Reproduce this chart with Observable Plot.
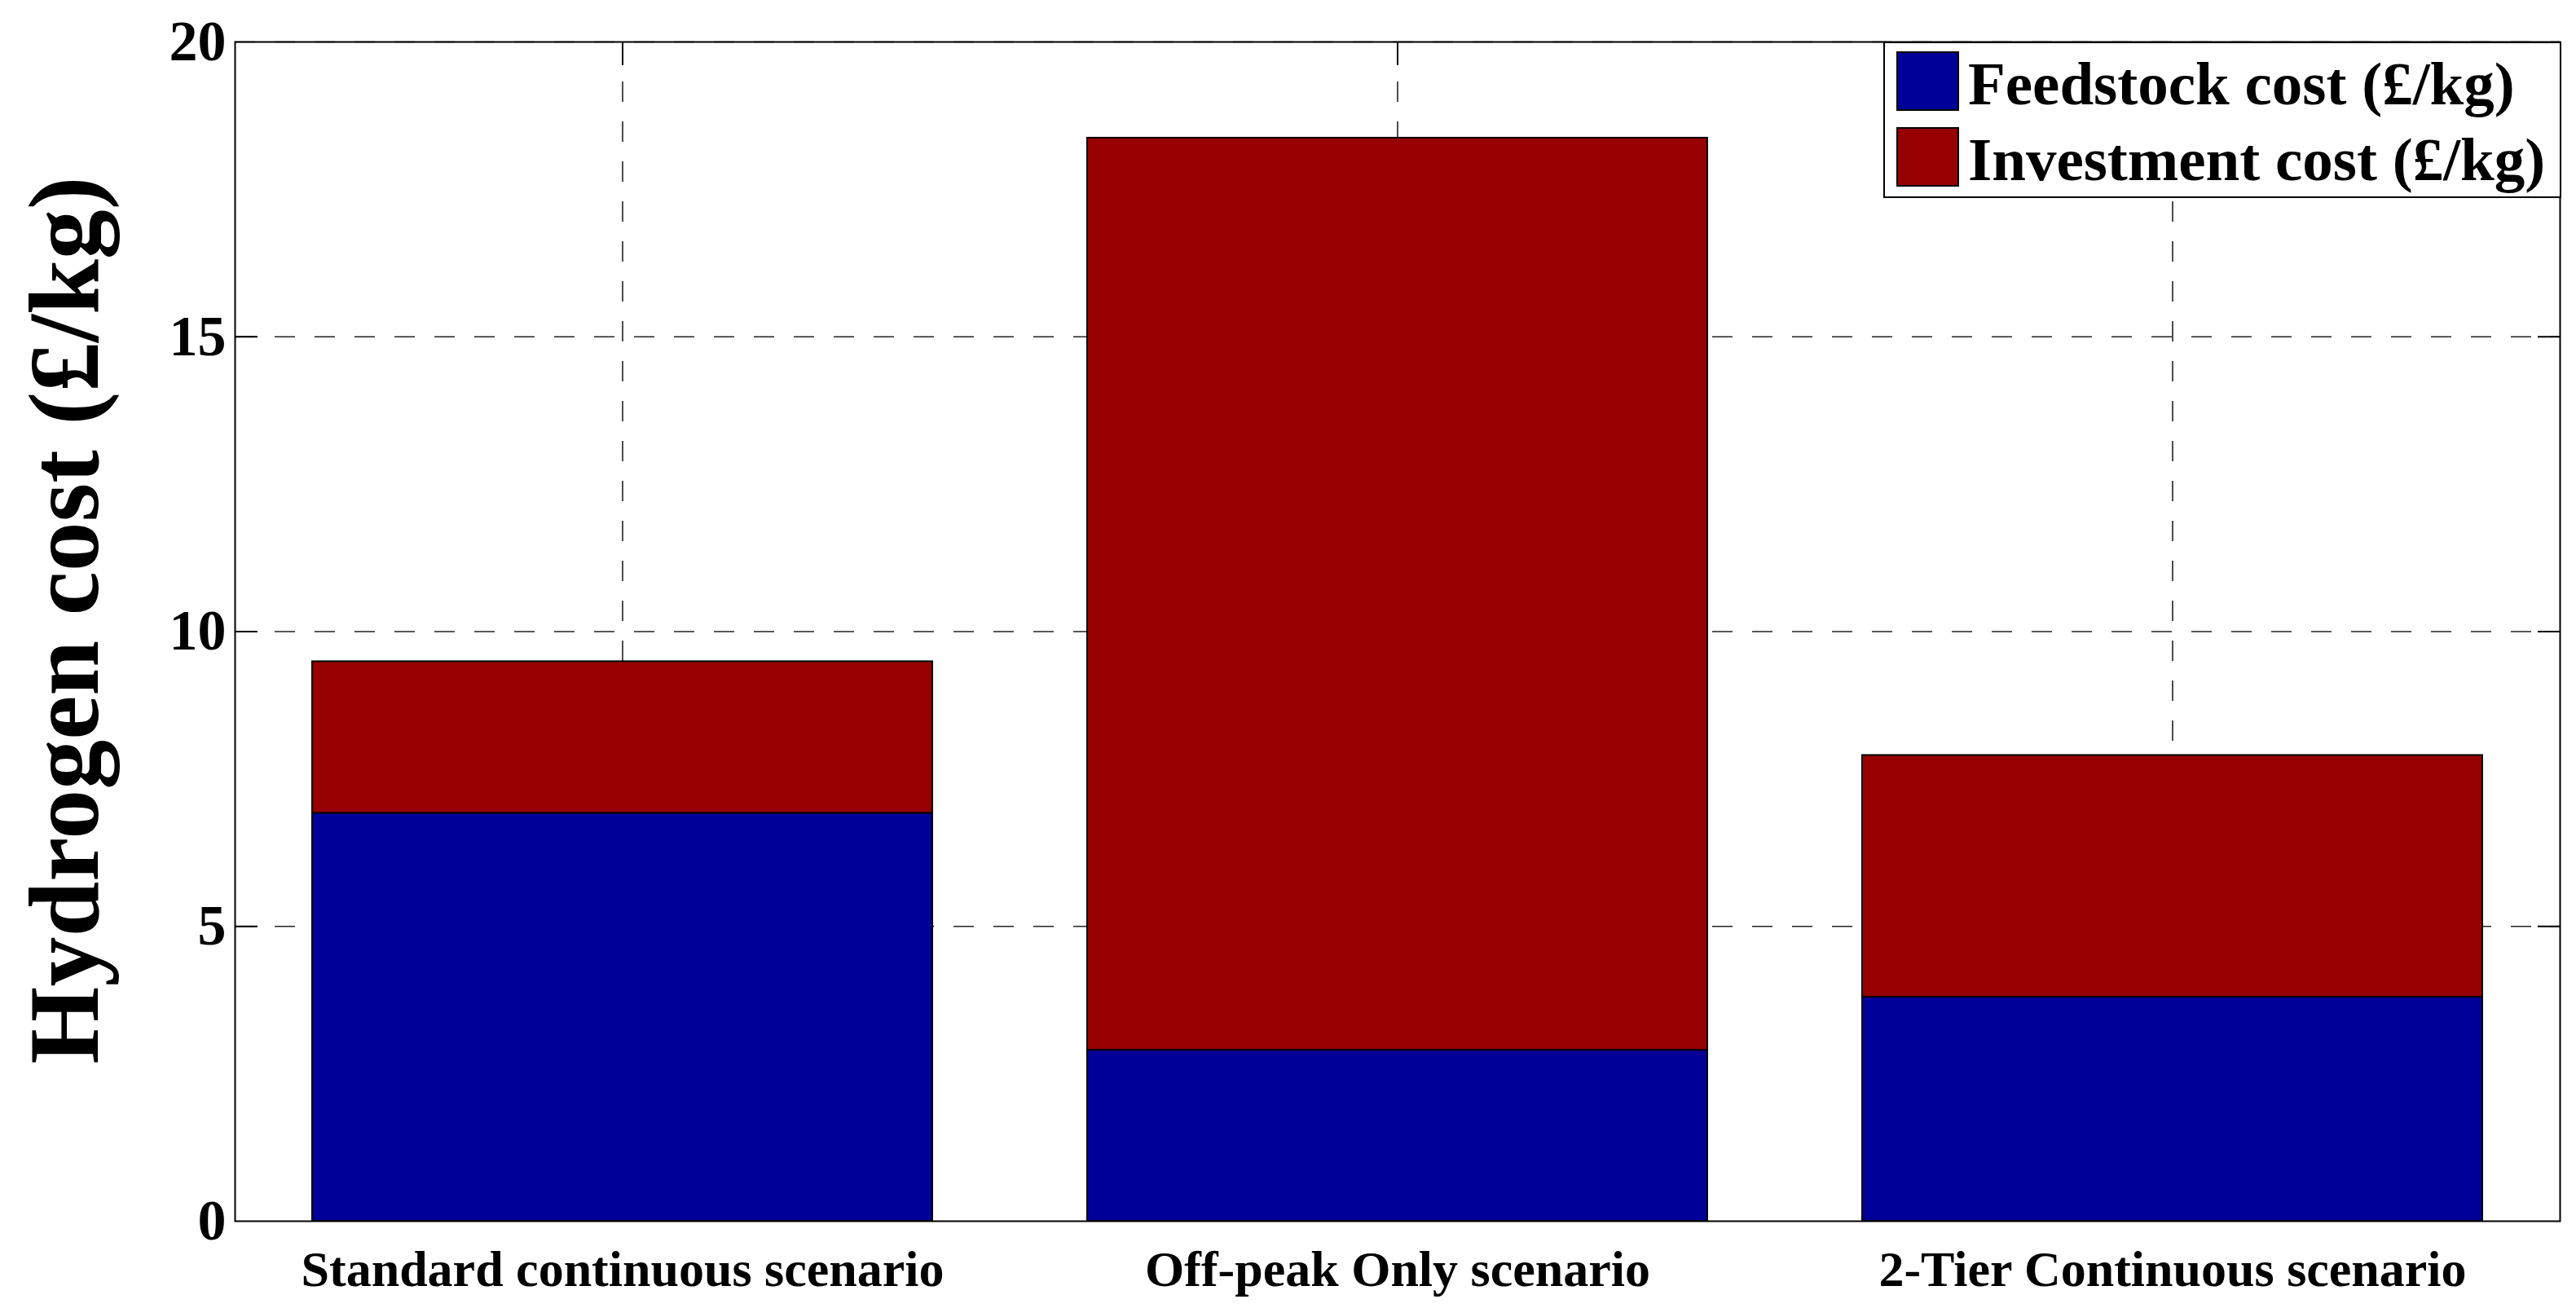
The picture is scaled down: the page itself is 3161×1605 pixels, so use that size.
<!DOCTYPE html>
<html>
<head>
<meta charset="utf-8">
<script src="https://cdn.jsdelivr.net/npm/d3@7"></script>
<script src="https://cdn.jsdelivr.net/npm/@observablehq/plot@0.6"></script>
<style>
  html, body { margin: 0; padding: 0; background: #fff; }
  #wrap { position: relative; width: 3161px; height: 1605px; overflow: hidden; }
  #legend {
    position: absolute; left: 2311px; top: 51px; width: 828px; height: 188px;
    border: 2px solid #000; background: #fff;
    font-family: "Liberation Serif", "Times New Roman", serif; font-weight: bold; font-size: 75px;
  }
  .sw { position: absolute; left: 14px; width: 77px; height: 73px; box-sizing: border-box; border: 2px solid #000; }
  .lt { position: absolute; left: 102px; line-height: 73px; white-space: nowrap; color: #000; }
</style>
</head>
<body>
<div id="wrap"></div>
<script>
// ---- data ----
const scenarios = ["Standard continuous scenario", "Off-peak Only scenario", "2-Tier Continuous scenario"];
const feedstock = [6.92, 2.90, 3.80];
const investment = [2.57, 15.47, 4.10];
const seriesNames = ["Feedstock cost (£/kg)", "Investment cost (£/kg)"];
const seriesColors = ["#000099", "#970000"];
const yTicks = [0, 5, 10, 15, 20];
const yLabel = "Hydrogen cost (£/kg)";

const rows = [];
scenarios.forEach((s, i) => {
  rows.push({scenario: s, series: seriesNames[0], value: feedstock[i]});
  rows.push({scenario: s, series: seriesNames[1], value: investment[i]});
});

const gridStyle = {stroke: "#222", strokeOpacity: 1, strokeWidth: 1.6, strokeDasharray: "25,24"};

const chart = Plot.plot({
  width: 3161,
  height: 1605,
  marginLeft: 288,
  marginRight: 20,
  marginTop: 51,
  marginBottom: 107,
  style: {fontFamily: "'Liberation Serif','Times New Roman',serif", fontWeight: "bold", background: "#fff", color: "#000"},
  x: {domain: scenarios, paddingInner: 0.2, paddingOuter: 0.1, label: null},
  y: {domain: [0, 20], label: null},
  color: {domain: seriesNames, range: seriesColors},
  marks: [
    Plot.gridY(yTicks.slice(1), gridStyle),
    Plot.gridX(scenarios, gridStyle),
    Plot.axisY(yTicks.slice(1, -1), {anchor: "left", tickSize: -28, text: null, label: null, strokeWidth: 2}),
    Plot.axisY(yTicks.slice(1, -1), {anchor: "right", tickSize: -28, text: null, label: null, strokeWidth: 2}),
    Plot.axisX(scenarios, {anchor: "top", tickSize: -28, text: null, label: null, strokeWidth: 2}),
    Plot.barY(rows, {x: "scenario", y: "value", fill: "series", stroke: "#000", strokeWidth: 2, order: seriesNames}),
    Plot.axisY(yTicks, {anchor: "left", tickSize: 0, tickPadding: 11, fontSize: 70, label: null, tickFormat: d3.format("d")}),
    Plot.axisX(scenarios, {anchor: "bottom", tickSize: 0, tickPadding: 35, fontSize: 62, label: null}),
    Plot.frame({stroke: "#000", strokeWidth: 2}),
    Plot.text([yLabel], {frameAnchor: "left", textAnchor: "middle", lineAnchor: "middle", rotate: -90, dx: -208, dy: -14, fontSize: 122, fontWeight: "bold", fill: "#000"})
  ]
});

const wrap = document.getElementById("wrap");
wrap.appendChild(chart);

// legend overlay (inside the plot frame, top-right)
const legend = document.createElement("div");
legend.id = "legend";
seriesNames.forEach((name, i) => {
  const sw = document.createElement("div");
  sw.className = "sw";
  sw.style.top = (10 + i * 93) + "px";
  sw.style.background = seriesColors[i];
  legend.appendChild(sw);
  const t = document.createElement("div");
  t.className = "lt";
  t.style.top = (13 + i * 93) + "px";
  t.textContent = name;
  legend.appendChild(t);
});
wrap.appendChild(legend);
</script>
</body>
</html>
